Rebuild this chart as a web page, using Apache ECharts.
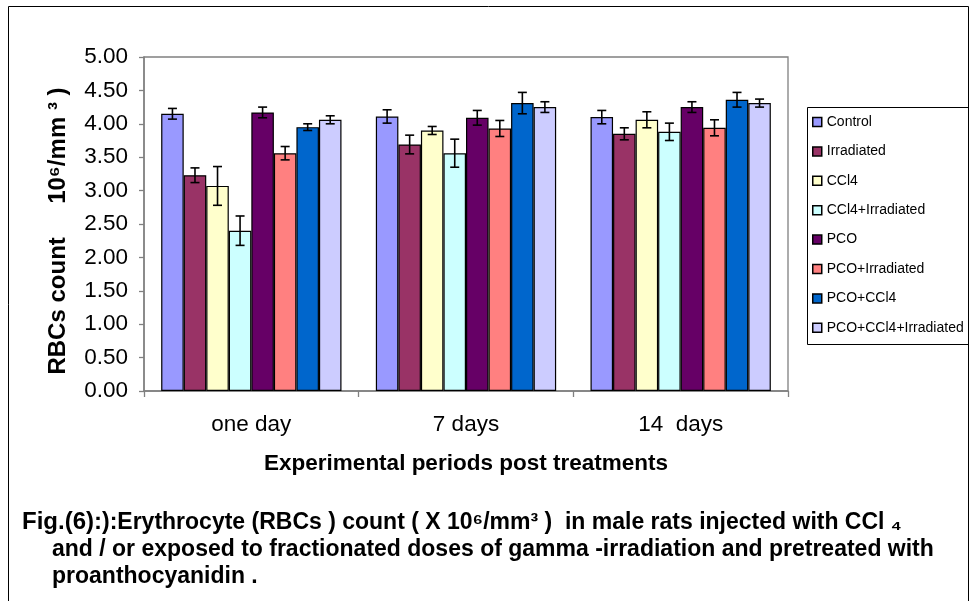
<!DOCTYPE html>
<html>
<head>
<meta charset="utf-8">
<script src="https://cdn.jsdelivr.net/npm/echarts@6/dist/echarts.min.js"></script>
<style>html,body{margin:0;padding:0;background:#fff}#chart{width:975px;height:601px}</style>
</head>
<body>
<div id="chart"></div>
<script>
// ---- data ----
const categories = ['one day', '7 days', '14  days'];
const seriesNames = ['Control', 'Irradiated', 'CCl4', 'CCl4+Irradiated', 'PCO', 'PCO+Irradiated', 'PCO+CCl4', 'PCO+CCl4+Irradiated'];
const control        = [4.15, 4.11, 4.10];
const irradiated     = [3.23, 3.69, 3.85];
const ccl4           = [3.07, 3.90, 4.06];
const ccl4Irr        = [2.40, 3.56, 3.88];
const pco            = [4.17, 4.09, 4.25];
const pcoIrr         = [3.56, 3.93, 3.94];
const pcoCcl4        = [3.95, 4.31, 4.36];
const pcoCcl4Irr     = [4.06, 4.25, 4.31];
const controlErr     = [0.08, 0.10, 0.10];
const irradiatedErr  = [0.11, 0.14, 0.09];
const ccl4Err        = [0.29, 0.06, 0.12];
const ccl4IrrErr     = [0.22, 0.21, 0.13];
const pcoErr         = [0.08, 0.11, 0.08];
const pcoIrrErr      = [0.10, 0.12, 0.12];
const pcoCcl4Err     = [0.05, 0.16, 0.11];
const pcoCcl4IrrErr  = [0.06, 0.08, 0.06];
const yTicks = { min: 0, max: 5, interval: 0.5 };

// ---- styles ----
const palette = ['#9999FF', '#993366', '#FFFFCC', '#CCFFFF', '#660066', '#FF8080', '#0066CC', '#CCCCFF'];
const FONT = 'Liberation Sans, Arial, sans-serif';

const allValues = [control, irradiated, ccl4, ccl4Irr, pco, pcoIrr, pcoCcl4, pcoCcl4Irr];
const allErrors = [controlErr, irradiatedErr, ccl4Err, ccl4IrrErr, pcoErr, pcoIrrErr, pcoCcl4Err, pcoCcl4IrrErr];
const CAT_GAP = 0.16;
const N = seriesNames.length;

const series = [];
seriesNames.forEach((name, i) => {
  series.push({
    name: name,
    type: 'bar',
    data: allValues[i],
    barGap: '0%',
    barCategoryGap: (CAT_GAP * 100) + '%',
    itemStyle: { color: palette[i], borderColor: '#000', borderWidth: 1.2 },
    z: 2
  });
});
seriesNames.forEach((name, i) => {
  series.push({
    name: name + ' error',
    type: 'custom',
    data: allValues[i].map((v, k) => [k, v, allErrors[i][k]]),
    encode: { x: 0, y: 1 },
    z: 5,
    silent: true,
    renderItem: function (params, api) {
      const k = api.value(0), v = api.value(1), e = api.value(2);
      const c = api.coord([k, v]);
      const catW = api.size([1, 0])[0];
      const bw = catW * (1 - CAT_GAP) / N;
      const x = c[0] + (i - (N - 1) / 2) * bw;
      const yTop = api.coord([k, v + e])[1];
      const yBot = api.coord([k, v - e])[1];
      const hw = 4.5;
      const st = { stroke: '#000', lineWidth: 1.6 };
      return {
        type: 'group',
        children: [
          { type: 'line', shape: { x1: x, y1: yTop, x2: x, y2: yBot }, style: st },
          { type: 'line', shape: { x1: x - hw, y1: yTop, x2: x + hw, y2: yTop }, style: st },
          { type: 'line', shape: { x1: x - hw, y1: yBot, x2: x + hw, y2: yBot }, style: st }
        ]
      };
    }
  });
});

const chart = echarts.init(document.getElementById('chart'), null, { renderer: 'canvas' });
chart.setOption({
  animation: false,
  backgroundColor: '#fff',
  textStyle: { fontFamily: FONT },
  grid: { left: 144, right: 187, top: 57, bottom: 210, show: true, borderColor: '#808080', borderWidth: 1.3, backgroundColor: '#fff' },
  legend: {
    data: seriesNames,
    orient: 'vertical',
    left: 812,
    top: 114,
    padding: 0,
    itemWidth: 9,
    itemHeight: 9,
    itemGap: 13.4,
    icon: 'rect',
    itemStyle: { borderColor: '#000', borderWidth: 1.5 },
    textStyle: { fontFamily: FONT, fontSize: 14, color: '#000', lineHeight: 16 },
    selectedMode: false
  },
  xAxis: {
    type: 'category',
    data: categories,
    axisLine: { lineStyle: { color: '#808080', width: 1.5 } },
    axisTick: { show: true, length: 6, lineStyle: { color: '#808080', width: 1.3 } },
    axisLabel: { color: '#000', fontSize: 22.5, margin: 22, fontFamily: FONT },
    name: 'Experimental periods post treatments',
    nameLocation: 'middle',
    nameGap: 61,
    nameTextStyle: { fontWeight: 'bold', fontSize: 22.5, color: '#000', fontFamily: FONT }
  },
  yAxis: {
    type: 'value',
    min: yTicks.min,
    max: yTicks.max,
    interval: yTicks.interval,
    splitLine: { show: false },
    axisLine: { show: true, lineStyle: { color: '#808080', width: 1.5 } },
    axisTick: { show: true, length: 5, lineStyle: { color: '#808080', width: 1.3 } },
    axisLabel: { color: '#000', fontSize: 22.5, margin: 16, fontFamily: FONT, formatter: v => v.toFixed(2) },
    name: 'RBCs count     10\u2076/mm \u00B3 )',
    nameLocation: 'middle',
    nameRotate: 90,
    nameGap: 74,
    nameTextStyle: { color: '#000', fontWeight: 'bold', fontSize: 24, fontFamily: FONT, padding: [0, 14, 0, 0] }
  },
  graphic: [
    { type: 'rect', z: 0, silent: true, shape: { x: 8.5, y: 6.5, width: 960, height: 700 }, style: { fill: 'none', stroke: '#000', lineWidth: 1 } },
    { type: 'rect', z: 0, silent: true, shape: { x: 807.5, y: 107.5, width: 161, height: 237 }, style: { fill: 'none', stroke: '#000', lineWidth: 1 } },
    {
      type: 'text', silent: true,
      style: {
        x: 22, y: 522, verticalAlign: 'middle',
        text: '{f|Fig.(6):}{t|):Erythrocyte (RBCs ) count ( X 10\u2076/mm\u00B3 )  in male rats injected with CCl \u2084}',
        rich: {
          f: { fontSize: 24, fontWeight: 'bold', fontFamily: FONT, fill: '#000', verticalAlign: 'bottom' },
          t: { fontSize: 23, fontWeight: 'bold', fontFamily: FONT, fill: '#000', verticalAlign: 'bottom' }
        }
      }
    },
    { type: 'text', silent: true, style: { x: 52, y: 550, verticalAlign: 'middle', text: 'and / or exposed to fractionated doses of gamma -irradiation and pretreated with', fontSize: 23, fontWeight: 'bold', fontFamily: FONT, fill: '#000' } },
    { type: 'text', silent: true, style: { x: 52, y: 577, verticalAlign: 'middle', text: 'proanthocyanidin .', fontSize: 23, fontWeight: 'bold', fontFamily: FONT, fill: '#000' } }
  ],
  series: series
});
</script>
</body>
</html>
